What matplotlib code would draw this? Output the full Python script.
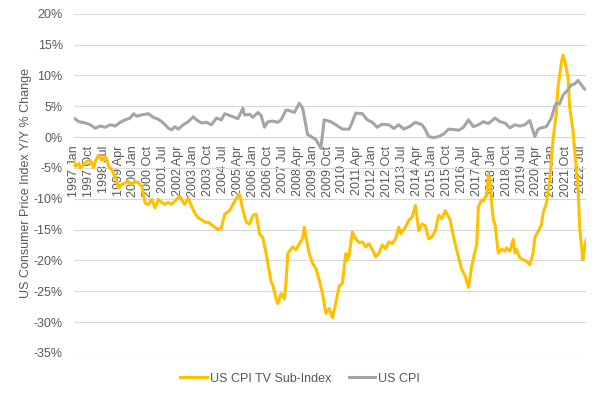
import matplotlib
matplotlib.use("Agg")
import matplotlib.pyplot as plt
from matplotlib.ticker import FuncFormatter

plt.rcParams['font.family'] = ['Liberation Sans', 'DejaVu Sans']

# US CPI TV Sub-Index, y/y % change
tv_dates = ["1997-01", "1997-02", "1997-04", "1997-05", "1997-07", "1997-09", "1997-11",
            "1998-01", "1998-02", "1998-04", "1998-06", "1998-08", "1998-09", "1998-10", "1998-12",
            "1999-02", "1999-03", "1999-04", "1999-06", "1999-08", "1999-10", "1999-12",
            "2000-02", "2000-04", "2000-06", "2000-08", "2000-10", "2000-12",
            "2001-02", "2001-04", "2001-06", "2001-08", "2001-10", "2001-12",
            "2002-03", "2002-05", "2002-07", "2002-08", "2002-10", "2002-12",
            "2003-02", "2003-04", "2003-06", "2003-08", "2003-10",
            "2004-04", "2004-06", "2004-08", "2004-11",
            "2005-01", "2005-04", "2005-05", "2005-07", "2005-09", "2005-11",
            "2006-01", "2006-03", "2006-05", "2006-07", "2006-09", "2006-12",
            "2007-01", "2007-03", "2007-04", "2007-06", "2007-08", "2007-09", "2007-10",
            "2008-01", "2008-03", "2008-05", "2008-07", "2008-08", "2008-09", "2008-11",
            "2009-01", "2009-03", "2009-05", "2009-07", "2009-09", "2009-11",
            "2010-01", "2010-03", "2010-05", "2010-07", "2010-09", "2010-10", "2010-11",
            "2011-01", "2011-03", "2011-05", "2011-07", "2011-09", "2011-11",
            "2012-01", "2012-03", "2012-05", "2012-07", "2012-09", "2012-11",
            "2013-01", "2013-03", "2013-05", "2013-06", "2013-09", "2013-11",
            "2014-01", "2014-03", "2014-05", "2014-07", "2014-09", "2014-11",
            "2015-01", "2015-03", "2015-05", "2015-07", "2015-09", "2015-12",
            "2016-02", "2016-05", "2016-07", "2016-09", "2016-11",
            "2017-01", "2017-03", "2017-04", "2017-05", "2017-07", "2017-08", "2017-10", "2017-11", "2017-12",
            "2018-01", "2018-02", "2018-03", "2018-05", "2018-07", "2018-09", "2018-10", "2018-12",
            "2019-02", "2019-03", "2019-04", "2019-06", "2019-08", "2019-10", "2019-12",
            "2020-02", "2020-03", "2020-05", "2020-07", "2020-08", "2020-10", "2020-12",
            "2021-01", "2021-02", "2021-04", "2021-05", "2021-07", "2021-08", "2021-09", "2021-11", "2021-12",
            "2022-02", "2022-03", "2022-05", "2022-06", "2022-08", "2022-09", "2022-10"]
tv_vals = [-3.9, -4.75, -4.3, -5.0, -4.5, -3.9, -3.8,
           -4.9, -3.9, -2.9, -3.8, -3.1, -3.7, -4.75, -5.3,
           -6.6, -7.2, -8.25, -7.7, -7.4, -7.2, -7.7,
           -7.2, -7.4, -8.0, -10.7, -10.95, -10.1,
           -11.5, -10.1, -10.6, -10.9, -10.6, -10.9,
           -10.1, -9.6, -10.6, -10.9, -9.9, -11.2,
           -12.3, -13.1, -13.4, -13.8, -13.8,
           -15.0, -14.7, -12.5, -11.9,
           -10.9, -9.5, -9.3, -11.9, -13.8, -14.1,
           -12.7, -12.5, -15.7, -16.3, -18.9, -23.5,
           -24.0, -26.2, -27.0, -25.4, -26.2, -23.5, -18.9,
           -17.8, -18.3, -17.3, -16.4, -14.6, -16.2, -18.9,
           -20.5, -21.3, -23.2, -25.4, -28.6, -27.8,
           -29.3, -26.9, -24.2, -23.7, -18.9, -20.0, -19.2,
           -15.4, -16.5, -17.1, -17.0, -17.8, -17.3,
           -18.2, -19.4, -18.9, -17.5, -18.1, -17.0,
           -17.3, -16.5, -14.6, -15.7, -14.6, -13.5,
           -13.0, -11.1, -15.2, -14.1, -14.4, -16.5,
           -16.2, -15.2, -12.7, -13.2, -11.9, -13.5,
           -16.2, -19.5, -21.5, -22.5, -24.4,
           -20.9, -18.5, -17.4, -11.2, -10.2, -10.4, -9.3, -6.1, -6.9,
           -10.7, -13.4, -14.2, -18.8, -18.2, -18.5, -18.0, -18.5,
           -16.6, -18.8, -18.2, -19.6, -19.9, -20.1, -20.7,
           -18.8, -16.3, -15.3, -14.2, -12.3, -10.7, -6.9,
           -3.7, -0.4, 3.9, 8.2, 12.0, 13.3, 12.5, 9.8, 5.0,
           1.2, -2.1, -7.4, -14.5, -19.9, -18.0, -16.6]

# US CPI, y/y % change
cpi_dates = ["1997-01", "1997-04", "1997-08", "1997-11", "1998-02", "1998-05", "1998-08", "1998-11",
             "1999-02", "1999-05", "1999-08", "1999-11", "2000-01", "2000-03", "2000-06", "2000-10",
             "2001-01", "2001-04", "2001-07", "2001-10", "2001-12", "2002-02", "2002-04", "2002-07",
             "2002-10", "2003-01", "2003-03", "2003-06", "2003-09", "2003-12", "2004-03", "2004-06",
             "2004-08", "2004-12", "2005-04", "2005-07", "2005-08", "2005-11", "2006-01", "2006-04",
             "2006-06", "2006-08", "2006-10", "2007-01", "2007-04", "2007-06", "2007-09", "2007-11",
             "2008-02", "2008-05", "2008-07", "2008-10", "2008-12", "2009-03", "2009-06", "2009-08",
             "2009-12", "2010-03", "2010-07", "2010-11", "2011-01", "2011-03", "2011-07", "2011-10",
             "2012-01", "2012-04", "2012-07", "2012-11", "2013-02", "2013-05", "2013-08", "2013-12",
             "2014-03", "2014-07", "2014-09", "2014-11", "2015-02", "2015-05", "2015-08", "2015-11",
             "2016-03", "2016-05", "2016-08", "2016-11", "2017-02", "2017-05", "2017-08", "2017-11",
             "2018-03", "2018-06", "2018-09", "2018-12", "2019-03", "2019-06", "2019-09", "2019-12",
             "2020-03", "2020-05", "2020-07", "2020-10", "2021-01", "2021-03", "2021-04", "2021-06",
             "2021-08", "2021-11", "2022-01", "2022-03", "2022-05", "2022-07", "2022-09", "2022-10"]
cpi_vals = [3.1, 2.5, 2.3, 2.0, 1.45, 1.8, 1.6, 2.0,
            1.8, 2.4, 2.8, 3.1, 3.8, 3.4, 3.6, 3.8,
            3.2, 2.9, 2.3, 1.45, 1.2, 1.7, 1.3, 2.0,
            2.5, 3.3, 2.8, 2.3, 2.4, 2.0, 3.1, 2.8,
            3.8, 3.4, 3.0, 4.7, 3.6, 3.7, 3.2, 4.0,
            3.5, 1.6, 2.5, 2.6, 2.4, 2.8, 4.4, 4.3,
            4.0, 5.5, 4.7, 0.4, 0.1, -0.4, -1.8, 2.8,
            2.5, 2.0, 1.3, 1.3, 2.5, 3.9, 3.8, 2.8,
            2.4, 1.6, 2.1, 2.0, 1.4, 2.0, 1.3, 1.8,
            2.4, 2.0, 1.2, 0.1, -0.1, 0.1, 0.5, 1.3,
            1.2, 1.1, 1.6, 2.8, 1.7, 2.0, 2.5, 2.2,
            3.1, 2.5, 2.3, 1.5, 2.0, 1.8, 2.0, 2.7,
            0.1, 1.3, 1.5, 1.7, 3.1, 4.95, 5.5, 5.4,
            6.8, 7.7, 8.5, 8.6, 9.2, 8.5, 7.8, 7.7]

tick_labels = ["1997 Jan", "1997 Oct", "1998 Jul", "1999 Apr", "2000 Jan", "2000 Oct", "2001 Jul",
               "2002 Apr", "2003 Jan", "2003 Oct", "2004 Jul", "2005 Apr", "2006 Jan", "2006 Oct",
               "2007 Jul", "2008 Apr", "2009 Jan", "2009 Oct", "2010 Jul", "2011 Apr", "2012 Jan",
               "2012 Oct", "2013 Jul", "2014 Apr", "2015 Jan", "2015 Oct", "2016 Jul", "2017 Apr",
               "2018 Jan", "2018 Oct", "2019 Jul", "2020 Apr", "2021 Jan", "2021 Oct", "2022 Jul"]

MONTHS = ["Jan", "Feb", "Mar", "Apr", "May", "Jun", "Jul", "Aug", "Sep", "Oct", "Nov", "Dec"]


def month_index(s):
    # months since 1997 Jan
    if "-" in s:
        y, m = s.split("-")
        return (int(y) - 1997) * 12 + int(m) - 1
    y, m = s.split(" ")
    return (int(y) - 1997) * 12 + MONTHS.index(m)


tv_x = [month_index(d) for d in tv_dates]
cpi_x = [month_index(d) for d in cpi_dates]
tick_x = [month_index(t) for t in tick_labels]

fig = plt.figure(figsize=(6, 3.96), dpi=100)
ax = fig.add_axes([0.123, 0.109, 0.854, 0.856])

ax.plot(tv_x, tv_vals, color="#FFC000", lw=2.2, label="US CPI TV Sub-Index", zorder=3)
ax.plot(cpi_x, cpi_vals, color="#A5A5A5", lw=2.2, label="US CPI", zorder=3)

ax.set_xlim(0, month_index("2022-10"))
ax.set_ylim(-35, 20)
ax.set_yticks(range(-35, 21, 5))
ax.yaxis.set_major_formatter(FuncFormatter(lambda v, p: f"{v:.0f}%"))
ax.grid(axis="y", color="#D9D9D9", lw=0.8)
ax.set_axisbelow(True)

for s in ["top", "right", "left"]:
    ax.spines[s].set_visible(False)
ax.spines["bottom"].set_position(("data", 0))
ax.spines["bottom"].set_visible(False)

ax.set_xticks(tick_x)
ax.set_xticklabels(tick_labels, rotation=90, va="top", ha="center")
ax.tick_params(axis="x", length=0, pad=6, labelsize=9, labelcolor="#595959")
ax.tick_params(axis="y", length=0, pad=8, labelsize=9, labelcolor="#595959")

ax.set_ylabel("US Consumer Price Index Y/Y % Change", fontsize=9, color="#595959", labelpad=1)

fig.legend(loc="lower center", bbox_to_anchor=(0.5, 0.0), ncol=2, frameon=False,
           fontsize=9, labelcolor="#595959", handlelength=2.1, handletextpad=0.25,
           columnspacing=1.4)

fig.savefig("out.png", dpi=100)
plt.close(fig)
